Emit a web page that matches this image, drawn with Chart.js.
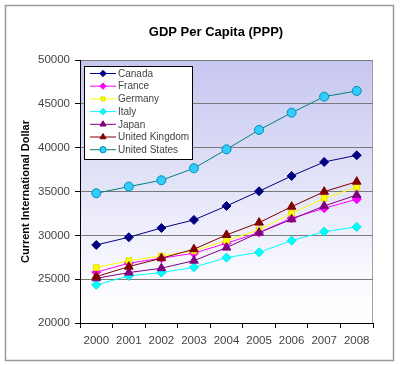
<!DOCTYPE html>
<html>
<head>
<meta charset="utf-8">
<script src="https://cdn.jsdelivr.net/npm/chart.js@4/dist/chart.umd.min.js"></script>
<style>
  body { margin: 0; background: #fff; }
  #wrap { width: 400px; height: 365px; }
</style>
</head>
<body>
<div id="wrap"><canvas id="gdpChart" width="400" height="365"></canvas></div>
<script>
const years = ["2000", "2001", "2002", "2003", "2004", "2005", "2006", "2007", "2008"];
const canada = [28900, 29780, 30840, 31760, 33350, 35030, 36770, 38370, 39130];
const france = [25800, 26820, 27390, 27960, 29100, 30310, 31950, 33090, 34120];
const germany = [26320, 27110, 27650, 28220, 29400, 30620, 32520, 34230, 35480];
const italy = [24350, 25370, 25750, 26360, 27460, 28070, 29400, 30420, 30960];
const japan = [25100, 25750, 26250, 27110, 28600, 30310, 31830, 33350, 34600];
const uk = [25290, 26430, 27390, 28420, 30050, 31450, 33270, 34980, 36120];
const us = [34800, 35560, 36280, 37650, 39810, 42020, 43990, 45820, 46470];
const yTicks = [20000, 25000, 30000, 35000, 40000, 45000, 50000];
const chartTitle = "GDP Per Capita (PPP)";

const font = "'Liberation Sans', Arial, sans-serif";

function serie(label, data, line, fill, border, style, radius, i) {
    return {
        label, data,
        borderColor: line,
        borderWidth: 1,
        backgroundColor: fill,
        pointBackgroundColor: fill,
        pointBorderColor: border,
        pointBorderWidth: 1,
        pointStyle: style,
        pointRadius: radius,
        tension: 0,
        order: -i
    };
}

const datasets = [
    serie("Canada", canada, "#000080", "#000080", "#000080", "rectRot", 4.5, 0),
    serie("France", france, "#ff00ff", "#ff00ff", "#ff00ff", "rectRot", 4.5, 1),
    serie("Germany", germany, "#ffff00", "#ffff00", "#e0e000", "rect", 4, 2),
    serie("Italy", italy, "#00ffff", "#00ffff", "#00e0e0", "rectRot", 4.5, 3),
    serie("Japan", japan, "#800080", "#800080", "#800080", "triangle", 5, 4),
    serie("United Kingdom", uk, "#800000", "#800000", "#800000", "triangle", 5, 5),
    serie("United States", us, "#008080", "#33ccff", "#0090b0", "circle", 4.5, 6)
];

// fondo degradado del area, marco exterior y titulo
const fondo = {
    id: "fondo",
    beforeDraw(chart) {
        const { ctx, chartArea: a } = chart;
        ctx.save();
        ctx.fillStyle = "#fff";
        ctx.fillRect(0, 0, chart.width, chart.height);
        ctx.strokeStyle = "#9a9a9a";
        ctx.lineWidth = 1.5;
        ctx.strokeRect(5.5, 5.5, 388, 355);
        const g = ctx.createLinearGradient(0, a.top, 0, a.bottom);
        g.addColorStop(0, "#c6c6f0");
        g.addColorStop(0.85, "#fbfbff");
        g.addColorStop(1, "#ffffff");
        ctx.fillStyle = g;
        ctx.fillRect(a.left, a.top, a.right - a.left, a.bottom - a.top);
        ctx.strokeStyle = "#a0a0a0";
        ctx.lineWidth = 1;
        ctx.beginPath();
        ctx.moveTo(a.left, a.top + 0.5);
        ctx.lineTo(a.right - 0.5, a.top + 0.5);
        ctx.lineTo(a.right - 0.5, a.bottom);
        ctx.stroke();
        ctx.fillStyle = "#000";
        ctx.font = "bold 13px " + font;
        ctx.textAlign = "center";
        ctx.textBaseline = "middle";
        ctx.fillText(chartTitle, 216, 32);
        ctx.restore();
    }
};

// leyenda dentro del area
const leyenda = {
    id: "leyenda",
    afterDraw(chart) {
        const { ctx } = chart;
        const x0 = 84, y0 = 66, w = 108, h = 93;
        ctx.save();
        ctx.fillStyle = "#fff";
        ctx.fillRect(x0, y0, w, h);
        ctx.strokeStyle = "#000";
        ctx.lineWidth = 1;
        ctx.strokeRect(x0 + 0.5, y0 + 0.5, w, h);
        ctx.font = "10px " + font;
        ctx.textBaseline = "middle";
        datasets.forEach((d, i) => {
            const y = 73.5 + i * 12.7;
            ctx.strokeStyle = d.borderColor;
            ctx.beginPath();
            ctx.moveTo(90, y);
            ctx.lineTo(116, y);
            ctx.stroke();
            ctx.fillStyle = d.pointBackgroundColor;
            ctx.strokeStyle = d.pointBorderColor;
            Chart.helpers.drawPoint(ctx, {
                pointStyle: d.pointStyle,
                radius: d.pointRadius * 0.7,
                rotation: 0,
                borderWidth: 1
            }, 103, y);
            ctx.fillStyle = "#444";
            ctx.fillText(d.label, 118, y + 0.5);
        });
        ctx.restore();
    }
};

new Chart(document.getElementById("gdpChart"), {
    type: "line",
    data: { labels: years, datasets },
    plugins: [fondo, leyenda],
    options: {
        responsive: false,
        animation: false,
        layout: { padding: { left: 10, right: 27, top: 60, bottom: 12 } },
        plugins: {
            legend: { display: false },
            tooltip: { enabled: false },
            title: { display: false }
        },
        scales: {
            x: {
                offset: true,
                afterFit: s => { s.height = 30; },
                grid: {
                    offset: true,
                    drawOnChartArea: false,
                    tickLength: 5,
                    tickColor: "#000"
                },
                border: { color: "#000", width: 1 },
                ticks: { color: "#444", padding: 6, font: { family: font, size: 11.5 } }
            },
            y: {
                min: 20000,
                max: 50000,
                afterFit: s => { s.width = 70; },
                afterBuildTicks: s => { s.ticks = yTicks.map(v => ({ value: v })); },
                grid: { color: "#7a7a7a", tickLength: 5, tickColor: "#000" },
                border: { color: "#000", width: 1 },
                ticks: {
                    color: "#444",
                    padding: 5,
                    font: { family: font, size: 11.5 },
                    callback: v => String(v)
                },
                title: {
                    display: true,
                    text: "Current International Dollar",
                    color: "#000",
                    font: { family: font, size: 11, weight: "bold" },
                    padding: { top: 9, bottom: 4 }
                }
            }
        }
    }
});
</script>
</body>
</html>
